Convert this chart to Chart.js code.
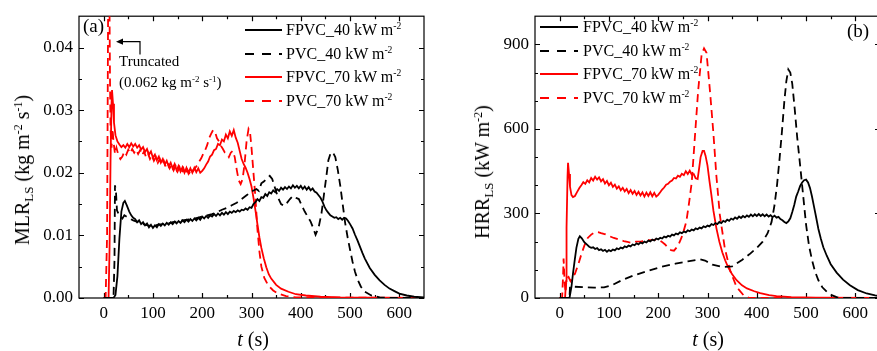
<!DOCTYPE html>
<html>
<head>
<meta charset="utf-8">
<script src="https://cdn.jsdelivr.net/npm/chart.js@4.4.0/dist/chart.umd.min.js"></script>
<style>
  html, body { margin: 0; padding: 0; background: #fff; overflow: hidden; }
  #wrap { position: relative; width: 877px; height: 351px; overflow: hidden; font-family: "Liberation Serif", "Times New Roman", serif; color: #000; }
  canvas { position: absolute; top: 0; }
  #cA { left: 0; }
  #cB { left: 440px; }
  .lbl { position: absolute; white-space: nowrap; line-height: 1; }
  .ytitle { transform: translate(-50%, -50%) rotate(-90deg); font-size: 20px; }
  .xtitle { transform: translate(-50%, -50%); font-size: 20px; }
  .leg { font-size: 16px; transform: translateY(-50%); }
  sup { font-size: 0.6em; vertical-align: 0.6em; line-height: 0; }
  sub { font-size: 0.65em; vertical-align: -0.3em; line-height: 0; }
  svg { position: absolute; overflow: visible; }
</style>
</head>
<body>
<div id="wrap">
  <canvas id="cA" width="440" height="351"></canvas>
  <canvas id="cB" width="442" height="351"></canvas>

  <div class="lbl ytitle" style="left:22px; top:170px;">MLR<sub>LS</sub> (kg m<sup>-2</sup> s<sup>-1</sup>)</div>
  <div class="lbl xtitle" style="left:253px; top:339px;"><i>t</i> (s)</div>
  <div class="lbl ytitle" style="left:482px; top:172px;">HRR<sub>LS</sub> (kW m<sup>-2</sup>)</div>
  <div class="lbl xtitle" style="left:708px; top:339px;"><i>t</i> (s)</div>

  <div class="lbl" style="left:83px; top:16px; font-size:19px;">(a)</div>
  <div class="lbl" style="left:847px; top:21px; font-size:19px;">(b)</div>

  <div class="lbl" style="left:119px; top:54px; font-size:15px;">Truncated</div>
  <div class="lbl" style="left:119px; top:75px; font-size:15px;">(0.062 kg m<sup>-2</sup> s<sup>-1</sup>)</div>
  <svg style="left:0; top:0;" width="1" height="1">
    <path d="M140 54.5 V41.7 H122" fill="none" stroke="#000" stroke-width="1.2"/>
    <polygon points="116,41.7 123,38.6 123,44.8" fill="#000"/>
  </svg>
  <div id="legends"></div>
</div>

<script>
// time axis (s)
const timeTicks = [0, 100, 200, 300, 400, 500, 600];
const timeMinor = [50, 150, 250, 350, 450, 550];
// MLR axis (kg m-2 s-1)
const mlrTicks = [0, 0.01, 0.02, 0.03, 0.04];
const mlrMinor = [0.005, 0.015, 0.025, 0.035];
// HRR axis (kW m-2)
const hrrTicks = [0, 300, 600, 900];
const hrrMinor = [100, 200, 400, 500, 700, 800];

const seriesNames = ["FPVC_40 kW m", "PVC_40 kW m", "FPVC_70 kW m", "PVC_70 kW m"];

// [t, MLR]
const mlrFpvc40 = [[0,0],[20,0],[24,0.0005],[28,0.0035],[32,0.0095],[36,0.0138],[40,0.0152],[43,0.0155],[47,0.0148],[52,0.0138],
  [56,0.0132],[60,0.0128],[64,0.0126],[68,0.0121],[72,0.0124],[76,0.0118],[80,0.0121],[84,0.0116],[88,0.0119],[92,0.0113],
  [96,0.0117],[100,0.0112],[104,0.0116],[108,0.0113],[112,0.0118],[116,0.0115],[120,0.0119],[124,0.0116],[128,0.0120],[132,0.0117],
  [136,0.0121],[140,0.0118],[144,0.0122],[148,0.0119],[152,0.0123],[156,0.0120],[160,0.0124],[164,0.0121],[168,0.0125],[172,0.0122],
  [176,0.0126],[180,0.0123],[184,0.0127],[188,0.0124],[192,0.0128],[196,0.0125],[200,0.0130],[204,0.0127],[208,0.0131],[212,0.0128],
  [216,0.0132],[220,0.0130],[224,0.0134],[228,0.0131],[232,0.0135],[236,0.0132],[240,0.0136],[244,0.0133],[248,0.0137],[252,0.0134],
  [256,0.0138],[260,0.0136],[264,0.0139],[268,0.0137],[272,0.0140],[276,0.0138],[280,0.0141],[284,0.0140],[288,0.0143],[292,0.0141],
  [296,0.0145],[300,0.0144],[304,0.0150],[308,0.0153],[312,0.0158],[316,0.0155],[320,0.0161],[324,0.0160],[328,0.0166],[332,0.0163],
  [336,0.0169],[340,0.0167],[344,0.0172],[348,0.0169],[352,0.0174],[356,0.0171],[360,0.0176],[364,0.0173],[368,0.0177],[372,0.0174],
  [376,0.0178],[380,0.0175],[384,0.0180],[388,0.0176],[392,0.0179],[396,0.0175],[400,0.0179],[404,0.0174],[408,0.0178],[412,0.0173],
  [416,0.0177],[420,0.0172],[424,0.0175],[428,0.0170],[432,0.0168],[436,0.0164],[440,0.0160],[444,0.0154],[448,0.0146],[452,0.0140],
  [456,0.0136],[460,0.0132],[464,0.0130],[468,0.0128],[472,0.0129],[476,0.0126],[480,0.0128],[484,0.0125],[488,0.0128],[492,0.0127],
  [496,0.0123],[500,0.0118],[505,0.0111],[510,0.0101],[515,0.0092],[520,0.0082],[525,0.0072],[530,0.0063],[540,0.0048],[550,0.0037],
  [560,0.0028],[570,0.0021],[580,0.0015],[590,0.0011],[600,0.0007],[615,0.0004],[630,0.0002],[650,0.0001]];

const mlrPvc40 = [[0,0],[20,0],[22,0.006],[23,0.0180],[25,0.0170],[27,0.0140],[30,0.0135],[34,0.0130],[38,0.0127],[42,0.0132],
  [46,0.0130],[50,0.0128],[55,0.0126],[60,0.0124],[70,0.0121],[80,0.0118],[90,0.0116],[100,0.0115],[110,0.0117],[120,0.0118],
  [130,0.0119],[140,0.0121],[150,0.0122],[160,0.0124],[170,0.0125],[180,0.0126],[190,0.0128],[200,0.0130],[210,0.0132],[220,0.0134],
  [230,0.0137],[240,0.0141],[250,0.0144],[260,0.0148],[270,0.0152],[280,0.0158],[290,0.0164],[300,0.0170],[310,0.0174],[315,0.0171],
  [320,0.0183],[325,0.0186],[330,0.0190],[337,0.0195],[342,0.0190],[348,0.0175],[354,0.0160],[360,0.0150],[366,0.0147],[372,0.0152],
  [378,0.0158],[384,0.0163],[390,0.0160],[396,0.0158],[402,0.0148],[408,0.0138],[414,0.0130],[420,0.0122],[426,0.0110],[430,0.0101],
  [436,0.0112],[442,0.0135],[447,0.0165],[452,0.0195],[456,0.0220],[460,0.0230],[465,0.0233],[470,0.0225],[475,0.0205],[480,0.0180],
  [485,0.0150],[490,0.0120],[495,0.0097],[500,0.0077],[505,0.0058],[510,0.0042],[515,0.0030],[522,0.0018],[530,0.0010],[543,0.0004],
  [560,0.0001],[580,0],[650,0]];

const mlrFpvc70 = [[0,0],[10,0],[12,0.008],[14,0.022],[16,0.031],[17,0.0332],[19,0.031],[21,0.028],[24,0.0260],[28,0.0250],
  [32,0.0245],[36,0.0241],[40,0.0244],[44,0.0240],[48,0.0246],[52,0.0241],[56,0.0247],[60,0.0242],[64,0.0246],[68,0.0240],
  [72,0.0244],[76,0.0237],[80,0.0241],[84,0.0233],[88,0.0238],[92,0.0229],[96,0.0234],[100,0.0224],[104,0.0229],[108,0.0220],
  [112,0.0226],[116,0.0216],[120,0.0222],[124,0.0213],[128,0.0219],[132,0.0210],[136,0.0216],[140,0.0207],[144,0.0214],[148,0.0204],
  [152,0.0211],[156,0.0202],[160,0.0209],[164,0.0200],[168,0.0208],[172,0.0199],[176,0.0207],[180,0.0200],[184,0.0208],[188,0.0201],
  [192,0.0207],[196,0.0200],[200,0.0203],[204,0.0207],[208,0.0213],[212,0.0218],[216,0.0226],[220,0.0229],[224,0.0236],[228,0.0238],
  [232,0.0246],[236,0.0244],[240,0.0253],[244,0.0250],[248,0.0261],[252,0.0255],[256,0.0266],[260,0.0259],[264,0.0268],[268,0.0256],
  [272,0.0248],[276,0.0235],[280,0.0222],[284,0.0214],[288,0.0208],[292,0.0200],[296,0.0190],[300,0.0178],[304,0.0160],[308,0.0140],
  [312,0.0118],[316,0.0097],[320,0.0080],[325,0.0063],[330,0.0049],[335,0.0038],[340,0.0031],[350,0.0021],[360,0.0015],[375,0.0010],
  [390,0.0006],[410,0.0004],[440,0.0002],[480,0.0001],[650,0]];

const mlrPvc70 = [[0,0],[4,0],[7,0.010],[9,0.045],[10,0.062],[11,0.055],[12,0.045],[13,0.034],[14,0.027],[16,0.024],
  [18,0.027],[20,0.025],[23,0.023],[26,0.024],[30,0.0228],[34,0.0222],[38,0.0226],[42,0.0234],[46,0.0229],[50,0.0237],
  [54,0.0231],[58,0.0238],[62,0.0232],[66,0.0237],[70,0.0230],[74,0.0236],[78,0.0228],[82,0.0234],[86,0.0225],[90,0.0231],
  [94,0.0222],[98,0.0228],[102,0.0219],[106,0.0225],[110,0.0216],[114,0.0222],[118,0.0213],[122,0.0219],[126,0.0210],[130,0.0216],
  [134,0.0207],[138,0.0213],[142,0.0204],[146,0.0211],[150,0.0202],[154,0.0209],[158,0.0199],[162,0.0207],[166,0.0197],[170,0.0205],
  [174,0.0200],[178,0.0207],[182,0.0203],[186,0.0208],[190,0.0212],[194,0.0218],[198,0.0223],[202,0.0230],[206,0.0236],[210,0.0244],
  [214,0.0255],[218,0.0262],[222,0.0268],[226,0.0265],[230,0.0255],[234,0.0250],[238,0.0243],[242,0.0238],[246,0.0232],[250,0.0230],
  [254,0.0225],[258,0.0232],[262,0.0235],[266,0.0225],[270,0.0205],[274,0.0188],[278,0.0182],[282,0.0190],[286,0.0215],[290,0.0250],
  [294,0.0270],[297,0.0265],[300,0.0240],[304,0.0200],[308,0.0160],[312,0.0110],[316,0.0075],[320,0.0050],[326,0.0032],[334,0.0020],
  [344,0.0012],[354,0.0007],[370,0.0003],[390,0.0001],[650,0]];

// [t, HRR]
const hrrFpvc40 = [[0,0],[20,0],[24,40],[27,86],[31,140],[34,178],[38,210],[41,219],[45,212],[50,198],
  [55,190],[60,182],[64,178],[68,180],[72,174],[76,177],[80,170],[84,173],[88,167],[92,171],
  [96,164],[100,170],[104,166],[108,172],[112,169],[116,176],[120,173],[124,179],[128,176],[132,183],
  [136,180],[140,186],[144,183],[148,190],[152,187],[156,194],[160,190],[164,197],[168,194],[172,200],
  [176,197],[180,204],[184,201],[188,207],[192,204],[196,211],[200,208],[204,214],[208,211],[212,218],
  [216,215],[220,221],[224,218],[228,225],[232,222],[236,229],[240,226],[244,233],[248,230],[252,236],
  [256,233],[260,240],[264,237],[268,243],[272,240],[276,247],[280,244],[284,250],[288,247],[292,254],
  [296,251],[300,257],[304,254],[308,262],[312,259],[316,266],[320,262],[324,270],[328,266],[332,274],
  [336,270],[340,278],[344,274],[348,282],[352,278],[356,286],[360,281],[364,289],[368,284],[372,291],
  [376,286],[380,293],[384,288],[388,296],[392,290],[396,297],[400,291],[404,298],[408,291],[412,297],
  [416,290],[420,296],[424,289],[428,294],[432,287],[436,292],[440,285],[444,288],[448,280],[452,276],
  [456,270],[460,266],[464,272],[468,283],[472,305],[476,330],[480,360],[484,378],[488,398],[492,410],
  [496,418],[500,420],[504,410],[508,390],[512,360],[516,325],[520,290],[525,245],[530,210],[535,180],
  [542,150],[550,120],[562,90],[575,65],[589,45],[605,28],[623,16],[640,9],[650,6]];

const hrrPvc40 = [[0,0],[20,0],[21,40],[30,40],[50,38],[70,37],[90,38],[105,44],[125,62],[150,80],
  [180,97],[205,110],[235,122],[260,130],[285,137],[295,133],[310,118],[330,110],[350,112],[370,135],
  [385,155],[400,178],[412,200],[422,230],[430,270],[436,330],[441,400],[446,490],[451,590],[456,700],
  [460,770],[464,811],[468,800],[472,760],[477,670],[482,570],[488,470],[494,365],[500,260],[506,185],
  [512,135],[518,95],[525,63],[533,38],[542,22],[552,10],[562,3],[575,0],[650,0]];

const hrrFpvc70 = [[0,0],[11,0],[13,60],[14,250],[16,430],[17,480],[19,440],[21,395],[24,365],[27,358],
  [31,362],[35,375],[40,390],[44,400],[48,411],[52,405],[56,418],[60,410],[64,426],[68,417],
  [72,430],[76,420],[80,428],[84,414],[88,422],[92,406],[96,415],[100,400],[104,409],[108,394],
  [112,402],[116,388],[120,396],[124,382],[128,391],[132,378],[136,387],[140,372],[144,383],[148,370],
  [152,380],[156,366],[160,377],[164,364],[168,375],[172,360],[176,374],[180,362],[184,375],[188,361],
  [192,373],[196,360],[200,366],[204,375],[208,385],[212,392],[216,402],[220,405],[224,413],[228,417],
  [232,426],[236,424],[240,434],[244,430],[248,441],[252,436],[256,450],[260,440],[264,452],[268,438],
  [272,440],[276,425],[280,422],[283,460],[286,500],[290,522],[293,522],[296,505],[300,470],[304,415],
  [308,364],[312,310],[318,248],[324,200],[330,162],[336,133],[342,109],[350,84],[359,63],[370,45],
  [380,34],[395,24],[407,17],[425,10],[440,7],[470,3],[520,1],[650,0]];

const hrrPvc70 = [[0,0],[5,0],[7,80],[8,140],[10,60],[12,20],[14,70],[18,75],[22,60],[26,70],
  [31,86],[38,120],[44,155],[50,185],[57,213],[64,225],[70,232],[78,234],[84,230],[93,226],
  [100,220],[110,213],[119,208],[130,202],[140,198],[146,196],[155,200],[166,201],[180,205],[190,206],
  [200,208],[207,200],[214,190],[220,178],[226,170],[232,168],[240,185],[247,213],[252,240],[257,271],
  [262,330],[268,410],[274,561],[281,735],[288,863],[293,886],[298,870],[305,735],[312,584],[318,434],
  [325,295],[335,178],[346,97],[359,39],[373,10],[385,0],[650,0]];

const serif = "'Liberation Serif', 'Times New Roman', serif";
const styles = [
  { color: "#000000", dash: [] },
  { color: "#000000", dash: [8, 5] },
  { color: "#ff0000", dash: [] },
  { color: "#ff0000", dash: [8, 5] }
];

// frame with inward ticks on all four sides
const frameTicks = {
  id: "frameTicks",
  beforeDatasetsDraw(chart, args, opts) {
    const { ctx, chartArea: a, scales: { x, y } } = chart;
    ctx.save();
    ctx.strokeStyle = "#000";
    ctx.lineWidth = 1.2;
    ctx.strokeRect(a.left, a.top, a.right - a.left, a.bottom - a.top);
    ctx.beginPath();
    const xt = (vals, len) => vals.forEach((v) => {
      const p = Math.round(x.getPixelForValue(v)) + 0.5;
      ctx.moveTo(p, a.bottom); ctx.lineTo(p, a.bottom - len);
      ctx.moveTo(p, a.top); ctx.lineTo(p, a.top + len);
    });
    const yt = (vals, len) => vals.forEach((v) => {
      const p = Math.round(y.getPixelForValue(v)) + 0.5;
      ctx.moveTo(a.left, p); ctx.lineTo(a.left + len, p);
      ctx.moveTo(a.right, p); ctx.lineTo(a.right - len, p);
    });
    xt(timeTicks, 5); xt(timeMinor, 3);
    yt(opts.major, 5); yt(opts.minor, 3);
    ctx.stroke();
    ctx.restore();
  }
};

function makeChart(id, sets, yMax, major, minor, fmt, yWidth, rightPad) {
  return new Chart(document.getElementById(id), {
    type: "line",
    data: {
      datasets: sets.map((pts, i) => ({
        label: seriesNames[i],
        data: pts.map((p) => ({ x: p[0], y: p[1] })),
        borderColor: styles[i].color,
        borderDash: styles[i].dash,
        borderWidth: 1.8,
        pointRadius: 0,
        tension: 0,
        fill: false
      }))
    },
    options: {
      responsive: false,
      animation: false,
      layout: { padding: { top: 11, right: rightPad, left: 0, bottom: 0 } },
      plugins: { legend: { display: false }, tooltip: { enabled: false }, frameTicks: { major, minor } },
      scales: {
        x: {
          type: "linear", min: -50, max: 650,
          grid: { display: false, drawTicks: false }, border: { display: false },
          ticks: { color: "#000", font: { family: serif, size: 17 }, padding: 5, maxRotation: 0 },
          afterBuildTicks: (s) => { s.ticks = timeTicks.map((v) => ({ value: v })); },
          afterFit: (s) => { s.height = 53; }
        },
        y: {
          type: "linear", min: 0, max: yMax,
          grid: { display: false, drawTicks: false }, border: { display: false },
          ticks: { color: "#000", font: { family: serif, size: 17 }, padding: 6, callback: fmt },
          afterBuildTicks: (s) => { s.ticks = major.map((v) => ({ value: v })); },
          afterFit: (s) => { s.width = yWidth; }
        }
      }
    },
    plugins: [frameTicks]
  });
}

makeChart("cA", [mlrFpvc40, mlrPvc40, mlrFpvc70, mlrPvc70], 0.045, mlrTicks, mlrMinor,
  (v) => Number(v).toFixed(2), 79, 16);
makeChart("cB", [hrrFpvc40, hrrPvc40, hrrFpvc70, hrrPvc70], 1000, hrrTicks, hrrMinor,
  (v) => String(v), 95, 2);

// legends (html so the superscripts stay real text)
function drawLegend(lineX, lineW, textX, rowsY) {
  const box = document.getElementById("legends");
  seriesNames.forEach((name, i) => {
    const y = rowsY[i];
    const dash = styles[i].dash.length ? 'stroke-dasharray="9 8"' : "";
    box.insertAdjacentHTML("beforeend",
      `<svg style="left:${lineX}px; top:${y}px;" width="${lineW}" height="1">
         <line x1="0" y1="0" x2="${lineW}" y2="0" stroke="${styles[i].color}" stroke-width="2" ${dash}/>
       </svg>
       <div class="lbl leg" style="left:${textX}px; top:${y}px;">${name}<sup>-2</sup></div>`);
  });
}
drawLegend(245, 37, 286, [30, 53.5, 77, 100.5]);
drawLegend(540, 38, 583, [26.5, 50.5, 74, 97.5]);
</script>
</body>
</html>
